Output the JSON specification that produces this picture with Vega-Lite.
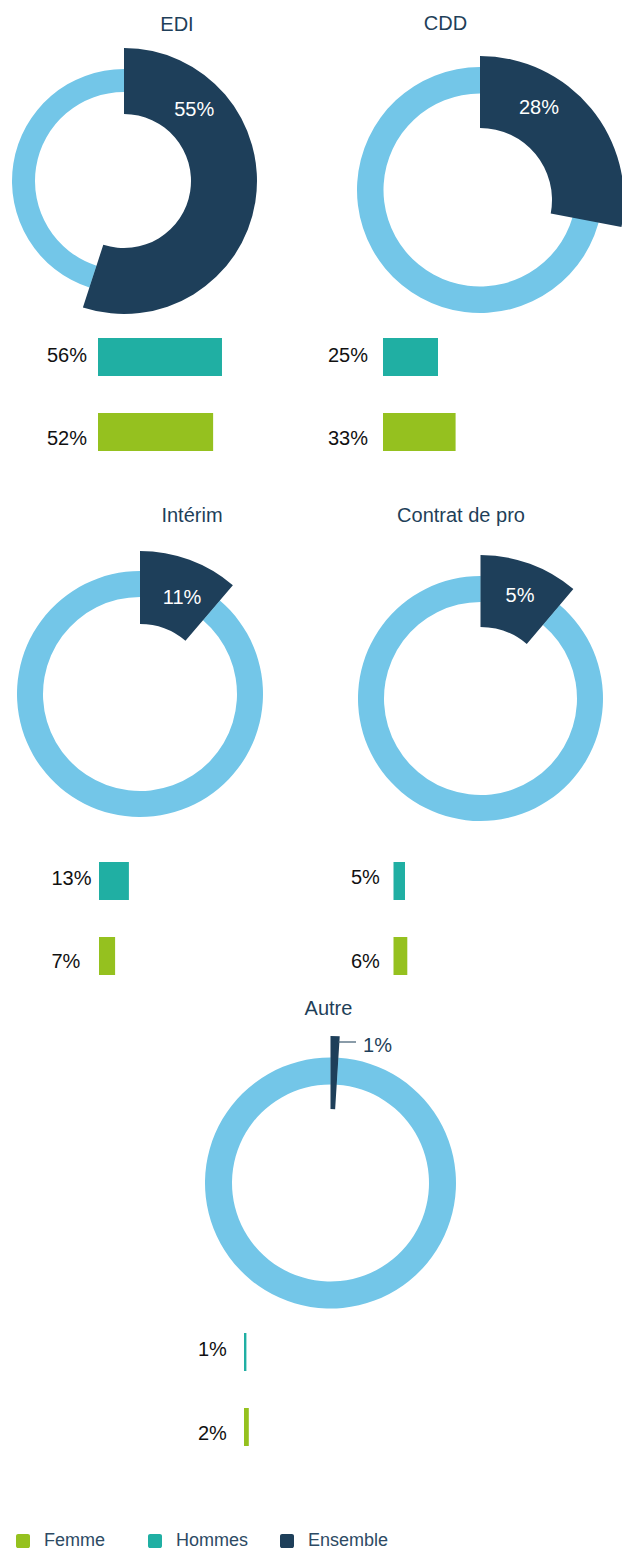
{
  "$schema": "https://vega.github.io/schema/vega-lite/v6.json",
  "padding": {"left": 0, "top": 13, "right": 0, "bottom": 0},
  "background": "white",
  "config": {
    "font": "Liberation Sans",
    "view": {"stroke": null},
    "title": {"font": "Liberation Sans", "fontSize": 20, "fontWeight": "normal", "color": "#1f3f59", "anchor": "middle", "baseline": "alphabetic"},
    "text": {"font": "Liberation Sans"},
    "legend": {
      "orient": "none", "legendX": 14, "legendY": 1490, "direction": "horizontal",
      "symbolType": "M-1,-0.7A0.3,0.3 0 0 1 -0.7,-1L0.7,-1A0.3,0.3 0 0 1 1,-0.7L1,0.7A0.3,0.3 0 0 1 0.7,1L-0.7,1A0.3,0.3 0 0 1 -1,0.7Z",
      "symbolSize": 196, "symbolStrokeWidth": 0, "symbolOpacity": 1,
      "labelFont": "Liberation Sans", "labelFontSize": 18, "labelColor": "#2d4a64",
      "labelOffset": 12, "columnPadding": 21, "gridAlign": "all", "padding": 0
    }
  },
  "columns": 3,
  "align": "each",
  "bounds": "flush",
  "spacing": {"row": 0, "column": 40},
  "concat": [
    {
      "width": 248, "height": 278,
      "title": {"text": "EDI", "dx": 53, "offset": 7},
      "data": {"values": [{"cat": "Ensemble", "v": 0.55, "pct": 0.55}, {"cat": "Autres", "v": 0.45}]},
      "layer": [
        {"mark": {"type": "arc", "radius": 112, "radius2": 89, "color": "#73c6e8"},
         "encoding": {"theta": {"field": "v", "type": "quantitative", "stack": true, "scale": {"domain": [0, 1]}}}},
        {"transform": [{"filter": "datum.cat === 'Ensemble'"}],
         "mark": {"type": "arc", "radius": 133, "radius2": 67},
         "encoding": {"theta": {"field": "v", "type": "quantitative", "stack": true},
           "color": {"field": "cat", "type": "nominal", "title": null, "scale": {"domain": ["Femme", "Hommes", "Ensemble"], "range": ["#95c11f", "#20afa3", "#1e3f5a"]}}}},
        {"transform": [{"filter": "datum.cat === 'Ensemble'"}],
         "mark": {"type": "text", "radius": 100, "thetaOffset": -0.95, "fontSize": 20, "color": "white", "baseline": "middle", "align": "center"},
         "encoding": {"theta": {"field": "v", "type": "quantitative", "stack": true}, "text": {"field": "pct", "type": "quantitative", "format": ".0%"}}}
      ]
    },
    {"width": 1, "height": 1, "data": {"values": []}, "mark": "point", "encoding": {}},
    {
      "width": 198, "height": 296,
      "title": {"text": "CDD", "dx": -34.5, "offset": 8.5},
      "data": {"values": [{"cat": "Ensemble", "v": 0.28, "pct": 0.28}, {"cat": "Autres", "v": 0.72}]},
      "layer": [
        {"mark": {"type": "arc", "radius": 123, "radius2": 96.5, "color": "#73c6e8"},
         "encoding": {"theta": {"field": "v", "type": "quantitative", "stack": true, "scale": {"domain": [0, 1]}}}},
        {"transform": [{"filter": "datum.cat === 'Ensemble'"}],
         "mark": {"type": "arc", "radius": 144, "radius2": 72, "yOffset": 10},
         "encoding": {"theta": {"field": "v", "type": "quantitative", "stack": true},
           "color": {"field": "cat", "type": "nominal", "title": null, "scale": {"domain": ["Femme", "Hommes", "Ensemble"], "range": ["#95c11f", "#20afa3", "#1e3f5a"]}}}},
        {"transform": [{"filter": "datum.cat === 'Ensemble'"}],
         "mark": {"type": "text", "radius": 101, "thetaOffset": -0.257, "fontSize": 20, "color": "white", "baseline": "middle", "align": "center"},
         "encoding": {"theta": {"field": "v", "type": "quantitative", "stack": true}, "text": {"field": "pct", "type": "quantitative", "format": ".0%"}}}
      ]
    },
    {
      "width": 248, "height": 197,
      "data": {"values": [{"g": "Hommes", "v": 0.56}, {"g": "Femme", "v": 0.52}]},
      "encoding": {"y": {"field": "g", "type": "nominal", "sort": ["Hommes", "Femme"], "axis": null, "scale": {"paddingInner": 0.4933, "paddingOuter": 0.56, "align": 0}}},
      "layer": [
        {"mark": {"type": "bar"},
         "encoding": {"x": {"field": "v", "type": "quantitative", "axis": null, "scale": {"domain": [-0.44264, 0.67751], "nice": false, "zero": false}},
           "color": {"field": "g", "type": "nominal", "title": null, "scale": {"domain": ["Femme", "Hommes", "Ensemble"], "range": ["#95c11f", "#20afa3", "#1e3f5a"]}}}},
        {"transform": [{"filter": "datum.g === 'Hommes'"}],
         "mark": {"type": "text", "align": "left", "baseline": "middle", "dx": -51, "dy": -1, "fontSize": 20, "color": "#111111"},
         "encoding": {"x": {"datum": 0, "type": "quantitative"}, "text": {"field": "v", "type": "quantitative", "format": ".0%"}}},
        {"transform": [{"filter": "datum.g === 'Femme'"}],
         "mark": {"type": "text", "align": "left", "baseline": "middle", "dx": -51, "dy": 7, "fontSize": 20, "color": "#111111"},
         "encoding": {"x": {"datum": 0, "type": "quantitative"}, "text": {"field": "v", "type": "quantitative", "format": ".0%"}}}
      ]
    },
    {"width": 1, "height": 1, "data": {"values": []}, "mark": "point", "encoding": {}},
    {
      "width": 198, "height": 197,
      "data": {"values": [{"g": "Hommes", "v": 0.25}, {"g": "Femme", "v": 0.33}]},
      "encoding": {"y": {"field": "g", "type": "nominal", "sort": ["Hommes", "Femme"], "axis": null, "scale": {"paddingInner": 0.4933, "paddingOuter": 0.56, "align": 0}}},
      "layer": [
        {"mark": {"type": "bar"},
         "encoding": {"x": {"field": "v", "type": "quantitative", "axis": null, "scale": {"domain": [-0.00909, 0.89091], "nice": false, "zero": false}},
           "color": {"field": "g", "type": "nominal", "title": null, "scale": {"domain": ["Femme", "Hommes", "Ensemble"], "range": ["#95c11f", "#20afa3", "#1e3f5a"]}}}},
        {"transform": [{"filter": "datum.g === 'Hommes'"}],
         "mark": {"type": "text", "align": "left", "baseline": "middle", "dx": -55, "dy": -1, "fontSize": 20, "color": "#111111"},
         "encoding": {"x": {"datum": 0, "type": "quantitative"}, "text": {"field": "v", "type": "quantitative", "format": ".0%"}}},
        {"transform": [{"filter": "datum.g === 'Femme'"}],
         "mark": {"type": "text", "align": "left", "baseline": "middle", "dx": -55, "dy": 7, "fontSize": 20, "color": "#111111"},
         "encoding": {"x": {"datum": 0, "type": "quantitative"}, "text": {"field": "v", "type": "quantitative", "format": ".0%"}}}
      ]
    },
    {
      "width": 280, "height": 318,
      "title": {"text": "Intérim", "dx": 52, "offset": 9},
      "data": {"values": [{"cat": "Ensemble", "v": 0.1125, "pct": 0.11}, {"cat": "Autres", "v": 0.8875}]},
      "layer": [
        {"mark": {"type": "arc", "radius": 123, "radius2": 97, "color": "#73c6e8"},
         "encoding": {"theta": {"field": "v", "type": "quantitative", "stack": true, "scale": {"domain": [0, 1]}}}},
        {"transform": [{"filter": "datum.cat === 'Ensemble'"}],
         "mark": {"type": "arc", "radius": 143, "radius2": 70},
         "encoding": {"theta": {"field": "v", "type": "quantitative", "stack": true},
           "color": {"field": "cat", "type": "nominal", "title": null, "scale": {"domain": ["Femme", "Hommes", "Ensemble"], "range": ["#95c11f", "#20afa3", "#1e3f5a"]}}}},
        {"transform": [{"filter": "datum.cat === 'Ensemble'"}],
         "mark": {"type": "text", "radius": 105, "thetaOffset": 0.059, "fontSize": 20, "color": "white", "baseline": "middle", "align": "center"},
         "encoding": {"theta": {"field": "v", "type": "quantitative", "stack": true}, "text": {"field": "pct", "type": "quantitative", "format": ".0%"}}}
      ]
    },
    {"width": 1, "height": 1, "data": {"values": []}, "mark": "point", "encoding": {}},
    {
      "width": 199, "height": 327,
      "title": {"text": "Contrat de pro", "dx": -19.5, "offset": 9},
      "data": {"values": [{"cat": "Ensemble", "v": 0.112, "pct": 0.05}, {"cat": "Autres", "v": 0.888}]},
      "layer": [
        {"mark": {"type": "arc", "radius": 122.5, "radius2": 96.5, "color": "#73c6e8"},
         "encoding": {"theta": {"field": "v", "type": "quantitative", "stack": true, "scale": {"domain": [0, 1]}}}},
        {"transform": [{"filter": "datum.cat === 'Ensemble'"}],
         "mark": {"type": "arc", "radius": 143.5, "radius2": 71.5},
         "encoding": {"theta": {"field": "v", "type": "quantitative", "stack": true},
           "color": {"field": "cat", "type": "nominal", "title": null, "scale": {"domain": ["Femme", "Hommes", "Ensemble"], "range": ["#95c11f", "#20afa3", "#1e3f5a"]}}}},
        {"transform": [{"filter": "datum.cat === 'Ensemble'"}],
         "mark": {"type": "text", "radius": 110, "thetaOffset": 0.016, "fontSize": 20, "color": "white", "baseline": "middle", "align": "center"},
         "encoding": {"theta": {"field": "v", "type": "quantitative", "stack": true}, "text": {"field": "pct", "type": "quantitative", "format": ".0%"}}}
      ]
    },
    {
      "width": 280, "height": 171,
      "data": {"values": [{"g": "Hommes", "v": 0.13}, {"g": "Femme", "v": 0.07}]},
      "encoding": {"y": {"field": "g", "type": "nominal", "sort": ["Hommes", "Femme"], "axis": null, "scale": {"paddingInner": 0.4933, "paddingOuter": 0.3867, "align": 0}}},
      "layer": [
        {"mark": {"type": "bar"},
         "encoding": {"x": {"field": "v", "type": "quantitative", "axis": null, "scale": {"domain": [-0.43043, 0.78696], "nice": false, "zero": false}},
           "color": {"field": "g", "type": "nominal", "title": null, "scale": {"domain": ["Femme", "Hommes", "Ensemble"], "range": ["#95c11f", "#20afa3", "#1e3f5a"]}}}},
        {"transform": [{"filter": "datum.g === 'Hommes'"}],
         "mark": {"type": "text", "align": "left", "baseline": "middle", "dx": -47.5, "dy": -2, "fontSize": 20, "color": "#111111"},
         "encoding": {"x": {"datum": 0, "type": "quantitative"}, "text": {"field": "v", "type": "quantitative", "format": ".0%"}}},
        {"transform": [{"filter": "datum.g === 'Femme'"}],
         "mark": {"type": "text", "align": "left", "baseline": "middle", "dx": -47.5, "dy": 6, "fontSize": 20, "color": "#111111"},
         "encoding": {"x": {"datum": 0, "type": "quantitative"}, "text": {"field": "v", "type": "quantitative", "format": ".0%"}}}
      ]
    },
    {"width": 1, "height": 1, "data": {"values": []}, "mark": "point", "encoding": {}},
    {
      "width": 199, "height": 171,
      "data": {"values": [{"g": "Hommes", "v": 0.05}, {"g": "Femme", "v": 0.06}]},
      "encoding": {"y": {"field": "g", "type": "nominal", "sort": ["Hommes", "Femme"], "axis": null, "scale": {"paddingInner": 0.4933, "paddingOuter": 0.3867, "align": 0}}},
      "layer": [
        {"mark": {"type": "bar"},
         "encoding": {"x": {"field": "v", "type": "quantitative", "axis": null, "scale": {"domain": [-0.05435, 0.81087], "nice": false, "zero": false}},
           "color": {"field": "g", "type": "nominal", "title": null, "scale": {"domain": ["Femme", "Hommes", "Ensemble"], "range": ["#95c11f", "#20afa3", "#1e3f5a"]}}}},
        {"transform": [{"filter": "datum.g === 'Hommes'"}],
         "mark": {"type": "text", "align": "left", "baseline": "middle", "dx": -42.5, "dy": -3, "fontSize": 20, "color": "#111111"},
         "encoding": {"x": {"datum": 0, "type": "quantitative"}, "text": {"field": "v", "type": "quantitative", "format": ".0%"}}},
        {"transform": [{"filter": "datum.g === 'Femme'"}],
         "mark": {"type": "text", "align": "left", "baseline": "middle", "dx": -42.5, "dy": 6, "fontSize": 20, "color": "#111111"},
         "encoding": {"x": {"datum": 0, "type": "quantitative"}, "text": {"field": "v", "type": "quantitative", "format": ".0%"}}}
      ]
    },
    {"width": 1, "height": 1, "data": {"values": []}, "mark": "point", "encoding": {}},
    {
      "width": 21, "height": 300,
      "title": {"text": "Autre", "dx": -2, "offset": 14},
      "data": {"values": [{"cat": "Ensemble", "v": 0.01, "pct": 0.01}, {"cat": "Autres", "v": 0.99}]},
      "layer": [
        {"mark": {"type": "arc", "radius": 125.5, "radius2": 98.5, "color": "#73c6e8"},
         "encoding": {"theta": {"field": "v", "type": "quantitative", "stack": true, "scale": {"domain": [0, 1]}}}},
        {"transform": [{"filter": "datum.cat === 'Ensemble'"}],
         "mark": {"type": "arc", "radius": 147, "radius2": 74},
         "encoding": {"theta": {"field": "v", "type": "quantitative", "stack": true},
           "color": {"field": "cat", "type": "nominal", "title": null, "scale": {"domain": ["Femme", "Hommes", "Ensemble"], "range": ["#95c11f", "#20afa3", "#1e3f5a"]}}}},
        {"transform": [{"filter": "datum.cat === 'Ensemble'"}],
         "mark": {"type": "rule", "color": "#3d5a70", "strokeWidth": 1.2},
         "encoding": {"x": {"value": 18}, "x2": {"value": 36}, "y": {"value": 9}, "y2": {"value": 9}}},
        {"transform": [{"filter": "datum.cat === 'Ensemble'"}],
         "mark": {"type": "text", "radius": 141, "thetaOffset": 0.202, "fontSize": 20, "color": "#1e3f5a", "baseline": "middle", "align": "left"},
         "encoding": {"theta": {"field": "v", "type": "quantitative", "stack": true}, "text": {"field": "pct", "type": "quantitative", "format": ".0%"}}}
      ]
    },
    {"width": 1, "height": 1, "data": {"values": []}, "mark": "point", "encoding": {}},
    {
      "width": 280, "height": 113,
      "data": {"values": [{"g": "Hommes", "v": 0.01}, {"g": "Femme", "v": 0.02}]},
      "encoding": {"y": {"field": "g", "type": "nominal", "sort": ["Hommes", "Femme"], "axis": null, "scale": {"paddingInner": 0.4933, "paddingOuter": 0, "align": 0}}},
      "layer": [
        {"mark": {"type": "bar"},
         "encoding": {"x": {"field": "v", "type": "quantitative", "axis": null, "scale": {"domain": [-1.01667, 0.15], "nice": false, "zero": false}},
           "color": {"field": "g", "type": "nominal", "title": null, "scale": {"domain": ["Femme", "Hommes", "Ensemble"], "range": ["#95c11f", "#20afa3", "#1e3f5a"]}}}},
        {"transform": [{"filter": "datum.g === 'Hommes'"}],
         "mark": {"type": "text", "align": "left", "baseline": "middle", "dx": -46, "dy": -2, "fontSize": 20, "color": "#111111"},
         "encoding": {"x": {"datum": 0, "type": "quantitative"}, "text": {"field": "v", "type": "quantitative", "format": ".0%"}}},
        {"transform": [{"filter": "datum.g === 'Femme'"}],
         "mark": {"type": "text", "align": "left", "baseline": "middle", "dx": -46, "dy": 7, "fontSize": 20, "color": "#111111"},
         "encoding": {"x": {"datum": 0, "type": "quantitative"}, "text": {"field": "v", "type": "quantitative", "format": ".0%"}}}
      ]
    }
  ]
}
